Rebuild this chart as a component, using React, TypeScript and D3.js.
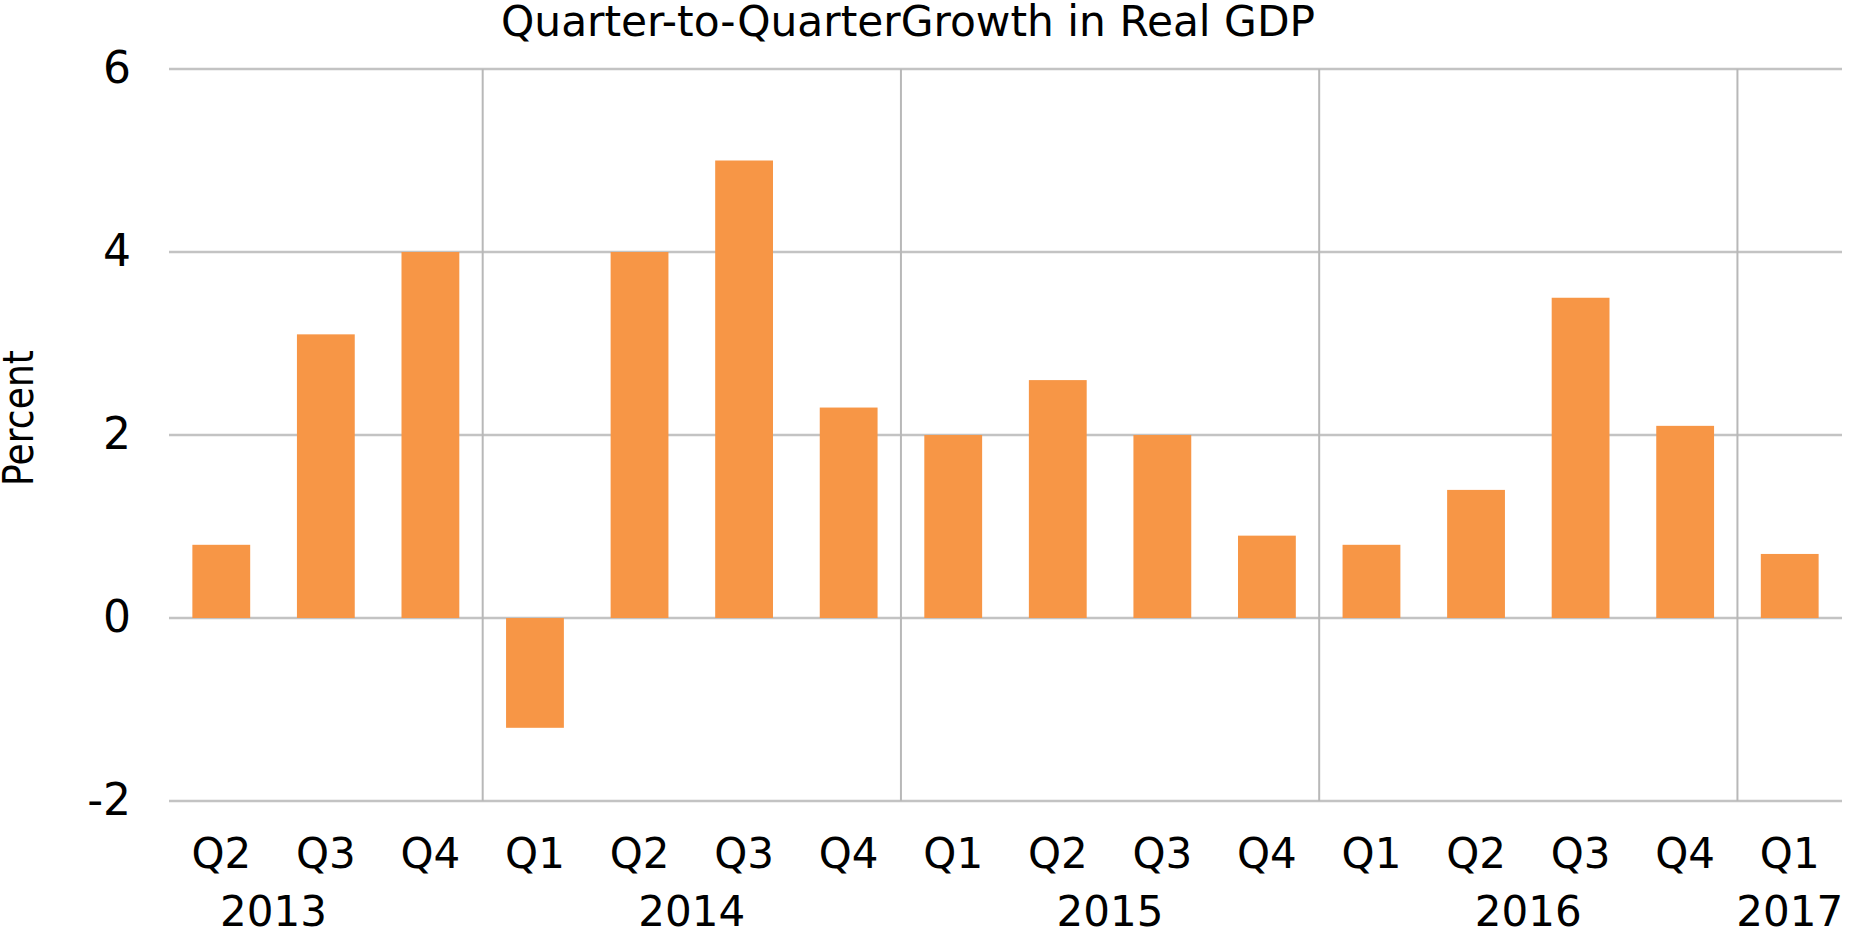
import React from "react";
import * as d3 from "d3";

const quarters = ["Q2", "Q3", "Q4", "Q1", "Q2", "Q3", "Q4", "Q1", "Q2", "Q3", "Q4", "Q1", "Q2", "Q3", "Q4", "Q1"];
const growth = [0.8, 3.1, 4.0, -1.2, 4.0, 5.0, 2.3, 2.0, 2.6, 2.0, 0.9, 0.8, 1.4, 3.5, 2.1, 0.7];
const years = ["2013", "2014", "2015", "2016", "2017"];
// quarters per year in the source series (2013 Q1 is off-chart)
const quartersPerYear = [4, 4, 4, 4, 1];
const firstYearStartIndex = -1;
const yTicks = [-2, 0, 2, 4, 6];
const title = "Quarter-to-QuarterGrowth in Real GDP";
const yLabel = "Percent";

const W = 1850;
const H = 929;
const FONT = "'DejaVu Sans', Verdana, sans-serif";

export default function App() {
  const x = d3
    .scaleBand<number>()
    .domain(d3.range(growth.length))
    .range([169, 1842])
    .paddingInner(0.447)
    .paddingOuter(0.2235);
  const y = d3.scaleLinear().domain([-2, 6]).range([801, 69]);
  const step = x.step();
  const x0 = x.range()[0];
  const [plotL, plotR] = x.range();

  let start = firstYearStartIndex;
  const groups = years.map((yr, i) => {
    const g = { year: yr, start, n: quartersPerYear[i] };
    start += quartersPerYear[i];
    return g;
  });

  return (
    <svg
      width={W}
      height={H}
      style={{ position: "absolute", left: 0, top: 0, background: "#fff" }}
      fontFamily={FONT}
    >
      <rect x={0} y={0} width={W} height={H} fill="#fff" />
      {/* horizontal gridlines */}
      {yTicks.map((t) => (
        <line key={"g" + t} x1={plotL} x2={plotR} y1={y(t)} y2={y(t)} stroke="#c3c3c3" strokeWidth={2.6} />
      ))}
      {/* year separators */}
      {groups.slice(1).map((g) => (
        <line
          key={"s" + g.year}
          x1={x0 + step * g.start}
          x2={x0 + step * g.start}
          y1={y(6)}
          y2={y(-2)}
          stroke="#b8b8b8"
          strokeWidth={2}
        />
      ))}
      {/* bars */}
      {growth.map((v, i) => (
        <rect
          key={"b" + i}
          x={x(i)}
          width={x.bandwidth()}
          y={y(Math.max(0, v))}
          height={Math.abs(y(v) - y(0))}
          fill="#F79646"
        />
      ))}
      {/* y tick labels */}
      {yTicks.map((t) => (
        <text key={"t" + t} x={131} y={y(t) + 14} textAnchor="end" fontSize={44} fill="#000">
          {t}
        </text>
      ))}
      {/* quarter labels */}
      {quarters.map((q, i) => (
        <text key={"q" + i} x={(x(i) as number) + x.bandwidth() / 2} y={868} textAnchor="middle" fontSize={42} fill="#000">
          {q}
        </text>
      ))}
      {/* year labels */}
      {groups.map((g) => (
        <text key={"y" + g.year} x={x0 + step * (g.start + g.n / 2)} y={926} textAnchor="middle" fontSize={42} fill="#000">
          {g.year}
        </text>
      ))}
      {/* title */}
      <text x={501} y={36} fontSize={42} textLength={814} lengthAdjust="spacingAndGlyphs" fill="#000">
        {title}
      </text>
      {/* y axis label */}
      <text
        transform={`translate(33, 418) rotate(-90)`}
        textAnchor="middle"
        fontSize={42}
        textLength={136}
        lengthAdjust="spacingAndGlyphs"
        fill="#000"
      >
        {yLabel}
      </text>
    </svg>
  );
}
